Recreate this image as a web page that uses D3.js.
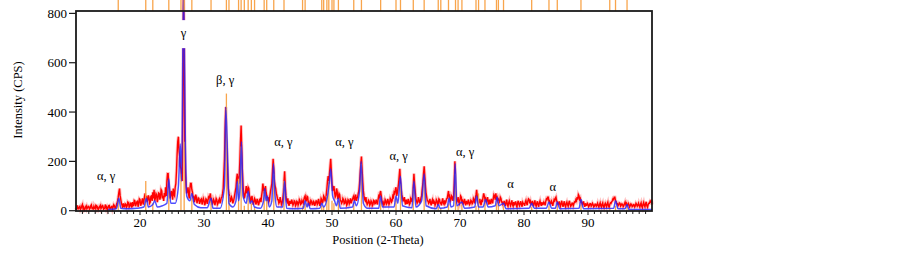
<!DOCTYPE html>
<html>
<head>
<meta charset="utf-8">
<script src="https://cdn.jsdelivr.net/npm/d3@7"></script>
<style>
    body { margin: 0; background: #fff; }
</style>
</head>
<body>
<div id="chart"></div>
<script>
// observed pattern, 2-theta grid from 10 in steps of 0.1 (one row = 2 degrees)
let obsStart = 10, obsStep = 0.1;
let obs = [
    12, 4, 22, 9, 8, 15, 18, 5, 10, 19, 25, 8, 14, 3, 6, 16, 20, 7, 12, 18,
    16, 6, 9, 20, 24, 10, 12, 4, 18, 11, 7, 22, 20, 9, 14, 5, 10, 17, 22, 8,
    13, 21, 19, 6, 8, 14, 25, 10, 15, 4, 11, 20, 21, 8, 9, 15, 17, 6, 14, 24,
    20, 10, 12, 22, 30, 40, 55, 75, 90, 60, 45, 30, 22, 12, 30, 18, 16, 28, 26, 14,
    20, 35, 32, 14, 18, 30, 28, 12, 35, 20, 22, 42, 40, 18, 26, 36, 38, 16, 30, 48,
    45, 20, 28, 40, 50, 25, 38, 55, 70, 45, 60, 35, 42, 62, 55, 30, 35, 58, 60, 40,
    75, 50, 85, 40, 50, 70, 65, 35, 48, 72, 70, 45, 55, 85, 80, 50, 60, 40, 72, 55,
    95, 60, 120, 150, 150, 100, 85, 50, 60, 80, 70, 45, 90, 65, 60, 95, 110, 160, 230, 280,
    300, 240, 220, 180, 170, 130, 120, 400, 900, 700, 260, 150, 100, 70, 80, 95, 65, 50, 90, 110,
    110, 85, 75, 50, 60, 35, 45, 65, 55, 30, 40, 52, 50, 28, 35, 45, 48, 25, 38, 50,
    42, 22, 30, 48, 45, 28, 38, 55, 50, 60, 70, 40, 45, 25, 32, 46, 40, 22, 35, 50,
    45, 25, 30, 42, 48, 30, 38, 52, 55, 70, 90, 150, 210, 330, 420, 300, 230, 150, 90, 70,
    60, 35, 42, 55, 48, 30, 38, 50, 65, 80, 95, 130, 150, 120, 110, 140, 200, 280, 345, 250,
    160, 100, 70, 50, 60, 80, 100, 70, 80, 95, 90, 60, 55, 40, 45, 60, 40, 25, 35, 50,
    45, 25, 32, 48, 40, 22, 30, 45, 48, 35, 60, 80, 110, 90, 70, 85, 100, 75, 60, 40,
    55, 35, 40, 60, 80, 95, 110, 160, 210, 170, 120, 100, 90, 70, 60, 45, 45, 30, 35, 55,
    40, 25, 32, 45, 70, 120, 160, 100, 60, 40, 35, 50, 28, 20, 40, 30, 30, 45, 35, 22,
    28, 40, 38, 20, 25, 38, 35, 22, 30, 45, 40, 25, 28, 42, 36, 30, 45, 55, 60, 40,
    40, 58, 55, 30, 35, 20, 28, 42, 38, 25, 25, 38, 35, 20, 28, 40, 40, 25, 30, 48,
    35, 20, 28, 50, 45, 30, 38, 60, 55, 40, 40, 65, 90, 120, 140, 110, 150, 180, 210, 160,
    110, 80, 90, 100, 75, 55, 60, 90, 80, 50, 50, 70, 65, 40, 40, 30, 35, 50, 45, 28,
    30, 45, 40, 22, 28, 45, 42, 28, 35, 50, 30, 40, 45, 55, 60, 40, 50, 65, 40, 50,
    55, 70, 80, 110, 150, 190, 220, 170, 120, 80, 60, 45, 40, 55, 35, 25, 30, 42, 38, 22,
    28, 40, 35, 20, 25, 42, 40, 28, 30, 45, 36, 25, 45, 60, 55, 70, 80, 60, 40, 30,
    35, 22, 28, 45, 40, 26, 30, 48, 38, 25, 32, 50, 45, 35, 40, 60, 55, 75, 70, 85,
    95, 60, 70, 90, 110, 140, 170, 120, 90, 65, 55, 40, 40, 55, 35, 25, 45, 30, 30, 48,
    38, 25, 30, 50, 45, 35, 60, 100, 150, 110, 80, 50, 40, 30, 35, 55, 45, 30, 38, 52,
    60, 90, 110, 150, 180, 140, 100, 70, 55, 40, 40, 30, 35, 48, 30, 22, 38, 45, 28, 40,
    35, 22, 30, 45, 40, 25, 28, 48, 45, 30, 32, 22, 38, 50, 30, 26, 42, 30, 35, 48,
    50, 65, 80, 55, 60, 40, 45, 60, 55, 40, 60, 110, 200, 90, 50, 35, 40, 55, 35, 28,
    45, 60, 55, 35, 40, 25, 35, 48, 30, 22, 40, 30, 28, 45, 35, 25, 30, 42, 38, 28,
    32, 50, 45, 30, 50, 65, 85, 60, 40, 30, 35, 48, 30, 22, 45, 35, 55, 70, 60, 45,
    50, 35, 40, 55, 35, 25, 45, 30, 30, 48, 40, 30, 50, 65, 60, 45, 70, 50, 55, 38,
    45, 30, 40, 55, 50, 35, 35, 25, 30, 40, 28, 20, 35, 45, 25, 18, 32, 40, 28, 20,
    30, 42, 25, 18, 35, 25, 28, 38, 22, 15, 32, 40, 26, 20, 30, 38, 24, 16, 34, 28,
    28, 20, 35, 42, 30, 22, 40, 48, 45, 30, 38, 25, 30, 40, 26, 18, 34, 42, 25, 18,
    30, 38, 24, 16, 32, 40, 28, 20, 35, 25, 26, 35, 30, 22, 38, 48, 45, 55, 55, 38,
    40, 28, 30, 38, 28, 20, 35, 45, 40, 50, 55, 40, 35, 25, 28, 38, 25, 18, 32, 40,
    24, 16, 30, 38, 22, 15, 28, 35, 25, 18, 32, 40, 26, 18, 22, 30, 30, 20, 28, 36,
    35, 45, 40, 55, 45, 65, 60, 45, 50, 35, 35, 25, 28, 38, 24, 16, 30, 22, 22, 30,
    26, 16, 20, 28, 28, 18, 22, 30, 25, 15, 18, 26, 26, 18, 22, 30, 20, 14, 25, 32,
    20, 14, 26, 32, 18, 12, 24, 30, 22, 15, 28, 35, 20, 14, 25, 32, 30, 36, 40, 48,
    45, 55, 55, 40, 38, 28, 28, 20, 24, 32, 30, 18, 22, 28, 26, 16, 20, 28, 35, 25,
    30, 20, 22, 30, 25, 15, 20, 28, 26, 16, 18, 25, 24, 15, 20, 30, 26, 18, 22, 30,
    20, 14, 25, 32, 18, 12, 26, 34, 22, 15, 28, 36, 20, 14, 24, 30, 30, 38, 35, 45,
    25
];

// calculated profile, read as vertices
let calcPos = [15, 16.3, 16.7, 17, 18, 19.5, 20.6, 21, 21.3, 22, 22.3, 22.7, 23.5, 24.2, 24.5, 24.8, 25.5, 26, 26.3, 26.5, 26.8, 27.1, 27.3, 27.8, 28.1, 28.5, 29.5, 30.5, 31.1, 31.4, 32.5, 33.2, 33.4, 33.7, 33.9, 34.5, 35, 35.2, 35.4, 35.6, 35.85, 36.1, 36.6, 36.9, 37.2, 37.5, 37.9, 38.8, 39.3, 39.5, 39.7, 39.9, 40.2, 40.6, 40.85, 41.1, 41.4, 42.3, 42.6, 42.9, 44, 45.5, 45.8, 46.1, 46.3, 46.6, 48.1, 48.4, 48.7, 49.3, 49.6, 49.8, 50.1, 50.4, 50.7, 51, 51.3, 53.2, 53.5, 53.8, 54.3, 54.55, 54.9, 55.5, 57.3, 57.6, 57.9, 59.7, 60, 60.3, 60.7, 61, 62.5, 62.8, 63.1, 64, 64.4, 64.7, 66.3, 66.6, 66.9, 68, 68.3, 68.6, 69, 69.25, 69.5, 70.3, 70.7, 72.3, 72.6, 72.9, 73.6, 74, 74.4, 75.5, 75.8, 76.1, 76.8, 77.2, 80.8, 81.2, 81.6, 83.5, 83.9, 84.3, 84.9, 85.2, 85.6, 88.6, 88.9, 89.3, 94, 94.3, 94.7, 95.8, 96.1, 96.4, 100];
let calcInt = [5, 8, 50, 10, 8, 10, 15, 50, 15, 25, 40, 15, 20, 30, 130, 30, 30, 100, 270, 120, 900, 260, 60, 40, 70, 25, 12, 12, 50, 10, 10, 100, 420, 200, 30, 15, 40, 120, 40, 80, 280, 60, 30, 80, 30, 40, 15, 10, 40, 90, 40, 60, 15, 40, 190, 60, 15, 15, 120, 10, 8, 10, 40, 15, 30, 8, 10, 30, 15, 60, 120, 170, 60, 40, 20, 50, 10, 15, 40, 20, 80, 200, 30, 10, 10, 60, 15, 15, 60, 30, 140, 20, 12, 120, 15, 40, 150, 20, 8, 25, 10, 15, 50, 15, 20, 190, 20, 35, 10, 15, 60, 15, 15, 45, 15, 20, 55, 20, 30, 8, 10, 30, 10, 10, 35, 10, 10, 35, 8, 10, 45, 8, 10, 40, 8, 8, 25, 5, 5];

// reference pattern sticks
let refPos = [16.6, 20.9, 22.0, 24.5, 26.4, 26.9, 28.1, 31.1, 33.5, 33.9, 35.4, 35.8, 36.3, 36.9, 37.4, 37.9, 39.4, 39.8, 40.9, 42.5, 45.4, 45.8, 48.4, 48.7, 49.2, 49.5, 50.0, 50.3, 51.0, 53.4, 54.6, 57.6, 60.0, 60.7, 62.7, 64.4, 66.6, 67.0, 68.2, 69.3, 69.7, 70.3, 72.5, 72.9, 73.9, 75.7, 76.0, 76.8, 81.2, 83.9, 85.2, 88.9, 93.4, 94.3, 96.1];
let refInt = [40, 120, 30, 90, 150, 280, 50, 40, 475, 60, 130, 260, 20, 60, 30, 15, 80, 50, 150, 120, 20, 30, 20, 15, 60, 120, 40, 30, 40, 30, 190, 40, 50, 110, 90, 120, 15, 10, 30, 150, 20, 25, 20, 70, 30, 30, 40, 20, 15, 20, 20, 25, 10, 20, 15];

let xTicks = [20, 30, 40, 50, 60, 70, 80, 90];
let yTicks = [0, 200, 400, 600, 800];

let phaseLabels = ["α, γ", "γ", "β, γ", "α, γ", "α, γ", "α, γ", "α, γ", "α", "α"];
let phasePos = [14.7, 26.8, 33.3, 42.4, 51.95, 60.4, 70.8, 77.9, 84.5];
let phaseInt = [141, 720, 530, 279, 279, 222, 238, 108, 96];

let width = 902, height = 254;
let plotLeft = 76, plotRight = 652, plotTop = 11, plotBottom = 211;
let serif = "'Liberation Serif', 'Times New Roman', Times, serif";

let svg = d3.select("#chart").append("svg")
    .attr("width", width)
    .attr("height", height)
    .style("font-family", serif);

let x = d3.scaleLinear().domain([10, 100]).range([plotLeft, plotRight]);
let y = d3.scaleLinear().domain([0, 800]).range([210.7, 13.4]);

let obsData = obs.map((v, i) => ({ t: obsStart + i * obsStep, v: v }));
let calcData = calcPos.map((p, i) => ({ t: p, v: calcInt[i] }));

let obsLine = d3.line().x(d => x(d.t)).y(d => y(d.v));
let calcLine = d3.line().x(d => x(d.t)).y(d => y(d.v)).curve(d3.curveMonotoneX);

// observed (red, with soft halo)
svg.append("path")
    .datum(obsData)
    .attr("d", obsLine)
    .attr("fill", "none")
    .attr("stroke", "rgba(255,100,100,0.4)")
    .attr("stroke-width", 3.2);

svg.append("path")
    .datum(obsData)
    .attr("d", obsLine)
    .attr("fill", "none")
    .attr("stroke", "#ff0000")
    .attr("stroke-width", 1.4);

// reference sticks inside plot
svg.selectAll(".stick")
    .data(refPos)
    .enter().append("line")
    .attr("class", "stick")
    .attr("x1", d => x(d))
    .attr("x2", d => x(d))
    .attr("y1", y(0))
    .attr("y2", (d, i) => y(refInt[i]))
    .attr("stroke", "#f8a54c")
    .attr("stroke-width", 1.3);

// calculated (blue)
svg.append("path")
    .datum(calcData)
    .attr("d", calcLine)
    .attr("fill", "none")
    .attr("stroke", "rgba(35,35,255,0.8)")
    .attr("stroke-width", 1.5);

// sticks above the frame
svg.selectAll(".topTick")
    .data(refPos)
    .enter().append("line")
    .attr("class", "topTick")
    .attr("x1", d => x(d))
    .attr("x2", d => x(d))
    .attr("y1", 0)
    .attr("y2", plotTop)
    .attr("stroke", "#f8a54c")
    .attr("stroke-width", 1.3);

// frame
svg.append("rect")
    .attr("x", plotLeft)
    .attr("y", plotTop)
    .attr("width", plotRight - plotLeft)
    .attr("height", plotBottom - plotTop)
    .attr("fill", "none")
    .attr("stroke", "#1a1a1a")
    .attr("stroke-width", 1.8);

// y axis
let yAxis = svg.append("g");
yAxis.selectAll("line")
    .data(yTicks)
    .enter().append("line")
    .attr("x1", plotLeft - 7)
    .attr("x2", plotLeft)
    .attr("y1", d => y(d))
    .attr("y2", d => y(d))
    .attr("stroke", "#1a1a1a")
    .attr("stroke-width", 1.2);
yAxis.selectAll("text")
    .data(yTicks)
    .enter().append("text")
    .attr("x", plotLeft - 9)
    .attr("y", d => y(d) + 4.5)
    .attr("text-anchor", "end")
    .style("font-size", "13px")
    .text(d => d);

// x axis, minor ticks every degree
let xAxis = svg.append("g");
xAxis.selectAll("line")
    .data(d3.range(11, 100))
    .enter().append("line")
    .attr("x1", d => x(d))
    .attr("x2", d => x(d))
    .attr("y1", plotBottom)
    .attr("y2", d => d % 10 == 0 ? plotBottom + 4 : plotBottom + 3)
    .attr("stroke", "#1a1a1a")
    .attr("stroke-width", 1);
xAxis.selectAll("text")
    .data(xTicks)
    .enter().append("text")
    .attr("x", d => x(d))
    .attr("y", 227)
    .attr("text-anchor", "middle")
    .style("font-size", "13px")
    .text(d => d);

svg.append("text")
    .attr("x", 378)
    .attr("y", 244)
    .attr("text-anchor", "middle")
    .style("font-size", "12.5px")
    .text("Position (2-Theta)");

svg.append("text")
    .attr("transform", "translate(22,100) rotate(-90)")
    .attr("text-anchor", "middle")
    .style("font-size", "12.5px")
    .text("Intensity (CPS)");

// phase labels, white backing behind the one that sits on the big peak
let labels = svg.selectAll(".phase")
    .data(phaseLabels)
    .enter().append("g")
    .attr("class", "phase")
    .attr("transform", (d, i) => "translate(" + x(phasePos[i]) + "," + y(phaseInt[i]) + ")");

labels.filter(d => d == "γ").append("rect")
    .attr("x", -6)
    .attr("y", -13)
    .attr("width", 12)
    .attr("height", 28)
    .attr("fill", "#fff");

labels.append("text")
    .attr("text-anchor", "middle")
    .attr("y", 4)
    .style("font-size", "12.5px")
    .text(d => d);
</script>
</body>
</html>
